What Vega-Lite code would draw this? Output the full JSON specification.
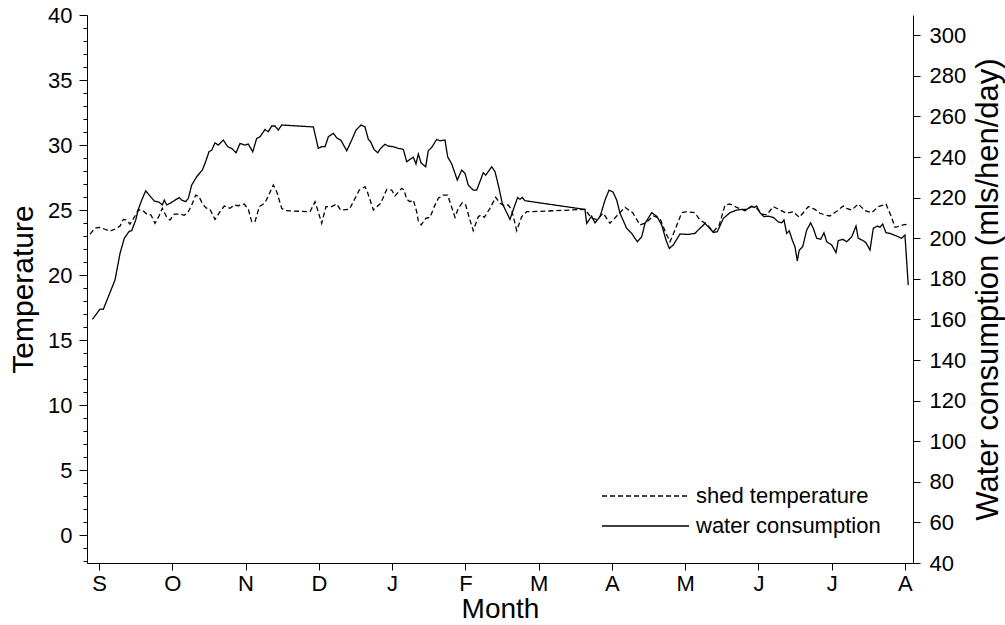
{
  "$schema": "https://vega.github.io/schema/vega-lite/v6.json",
  "width": 826,
  "height": 548,
  "autosize": "none",
  "padding": {"left": 87, "top": 15, "right": 92, "bottom": 62},
  "config": {
    "font": "Liberation Sans",
    "view": {"stroke": null},
    "axis": {"grid": false, "domainColor": "#000", "tickColor": "#000", "labelColor": "#000", "titleColor": "#000", "labelFontSize": 22, "titleFontSize": 29, "titleFontWeight": "normal", "domainWidth": 1, "tickWidth": 1}
  },
  "datasets": {
    "temp": [
      {"month": -0.123, "value": 23.15}, {"month": -0.055, "value": 23.59}, {"month": 0.0, "value": 23.67}, {"month": 0.072, "value": 23.54},
      {"month": 0.15, "value": 23.38}, {"month": 0.218, "value": 23.54}, {"month": 0.287, "value": 23.77}, {"month": 0.332, "value": 24.28},
      {"month": 0.378, "value": 24.23}, {"month": 0.423, "value": 23.92}, {"month": 0.491, "value": 24.54}, {"month": 0.536, "value": 25.0},
      {"month": 0.591, "value": 25.0}, {"month": 0.651, "value": 24.69}, {"month": 0.71, "value": 24.62}, {"month": 0.764, "value": 23.98},
      {"month": 0.819, "value": 24.54}, {"month": 0.864, "value": 25.13}, {"month": 0.924, "value": 24.44}, {"month": 0.969, "value": 24.23},
      {"month": 1.028, "value": 24.69}, {"month": 1.105, "value": 24.69}, {"month": 1.164, "value": 24.59}, {"month": 1.219, "value": 24.87},
      {"month": 1.265, "value": 25.38}, {"month": 1.32, "value": 26.15}, {"month": 1.365, "value": 26.02}, {"month": 1.41, "value": 25.52},
      {"month": 1.456, "value": 25.18}, {"month": 1.515, "value": 25.05}, {"month": 1.583, "value": 24.28}, {"month": 1.651, "value": 24.87},
      {"month": 1.71, "value": 25.31}, {"month": 1.788, "value": 25.13}, {"month": 1.847, "value": 25.38}, {"month": 1.901, "value": 25.33},
      {"month": 1.983, "value": 25.46}, {"month": 2.038, "value": 25.05}, {"month": 2.084, "value": 24.1}, {"month": 2.129, "value": 24.1},
      {"month": 2.188, "value": 25.26}, {"month": 2.266, "value": 25.56}, {"month": 2.311, "value": 26.08}, {"month": 2.379, "value": 26.92},
      {"month": 2.425, "value": 26.41}, {"month": 2.494, "value": 25.13}, {"month": 2.539, "value": 24.95}, {"month": 2.88, "value": 24.87},
      {"month": 2.948, "value": 25.64}, {"month": 2.985, "value": 25.0}, {"month": 3.039, "value": 23.98}, {"month": 3.098, "value": 25.26},
      {"month": 3.176, "value": 25.26}, {"month": 3.244, "value": 25.46}, {"month": 3.299, "value": 25.0}, {"month": 3.416, "value": 25.05},
      {"month": 3.471, "value": 25.64}, {"month": 3.553, "value": 26.54}, {"month": 3.63, "value": 26.79}, {"month": 3.662, "value": 26.41},
      {"month": 3.744, "value": 25.0}, {"month": 3.845, "value": 25.52}, {"month": 3.927, "value": 26.59}, {"month": 3.995, "value": 26.54},
      {"month": 4.04, "value": 26.08}, {"month": 4.131, "value": 26.67}, {"month": 4.163, "value": 26.54}, {"month": 4.2, "value": 25.82},
      {"month": 4.245, "value": 25.64}, {"month": 4.29, "value": 25.77}, {"month": 4.336, "value": 24.87}, {"month": 4.358, "value": 24.15},
      {"month": 4.398, "value": 23.85}, {"month": 4.459, "value": 24.36}, {"month": 4.518, "value": 24.44}, {"month": 4.576, "value": 25.26},
      {"month": 4.631, "value": 25.9}, {"month": 4.699, "value": 26.15}, {"month": 4.759, "value": 26.15}, {"month": 4.804, "value": 25.38},
      {"month": 4.859, "value": 24.44}, {"month": 4.904, "value": 25.13}, {"month": 4.958, "value": 25.56}, {"month": 5.005, "value": 25.38},
      {"month": 5.063, "value": 24.23}, {"month": 5.108, "value": 23.41}, {"month": 5.177, "value": 24.49}, {"month": 5.214, "value": 24.62},
      {"month": 5.259, "value": 24.44}, {"month": 5.336, "value": 25.13}, {"month": 5.414, "value": 25.98}, {"month": 5.473, "value": 25.52},
      {"month": 5.532, "value": 25.33}, {"month": 5.586, "value": 25.38}, {"month": 5.633, "value": 25.0}, {"month": 5.701, "value": 23.41},
      {"month": 5.769, "value": 24.49}, {"month": 5.837, "value": 24.87}, {"month": 5.906, "value": 24.87}, {"month": 6.633, "value": 25.05},
      {"month": 6.724, "value": 24.36}, {"month": 6.793, "value": 24.28}, {"month": 6.883, "value": 24.75}, {"month": 6.974, "value": 23.98},
      {"month": 7.066, "value": 24.54}, {"month": 7.179, "value": 25.21}, {"month": 7.284, "value": 24.79}, {"month": 7.384, "value": 23.85},
      {"month": 7.465, "value": 24.02}, {"month": 7.565, "value": 24.54}, {"month": 7.656, "value": 24.36}, {"month": 7.738, "value": 23.21},
      {"month": 7.793, "value": 22.56}, {"month": 7.861, "value": 23.46}, {"month": 7.953, "value": 24.79}, {"month": 8.021, "value": 24.87},
      {"month": 8.134, "value": 24.79}, {"month": 8.202, "value": 24.23}, {"month": 8.294, "value": 23.92}, {"month": 8.384, "value": 23.33},
      {"month": 8.466, "value": 23.85}, {"month": 8.544, "value": 25.38}, {"month": 8.612, "value": 25.46}, {"month": 8.703, "value": 25.21},
      {"month": 8.817, "value": 24.95}, {"month": 8.908, "value": 25.26}, {"month": 8.976, "value": 25.13}, {"month": 9.045, "value": 24.69},
      {"month": 9.113, "value": 24.62}, {"month": 9.203, "value": 25.26}, {"month": 9.295, "value": 25.0}, {"month": 9.386, "value": 24.75},
      {"month": 9.476, "value": 24.87}, {"month": 9.558, "value": 24.44}, {"month": 9.612, "value": 24.79}, {"month": 9.681, "value": 25.26},
      {"month": 9.772, "value": 25.05}, {"month": 9.84, "value": 24.75}, {"month": 9.909, "value": 24.62}, {"month": 9.977, "value": 24.54},
      {"month": 10.059, "value": 24.87}, {"month": 10.158, "value": 25.31}, {"month": 10.205, "value": 25.13}, {"month": 10.273, "value": 25.0},
      {"month": 10.363, "value": 25.46}, {"month": 10.454, "value": 24.95}, {"month": 10.546, "value": 24.79}, {"month": 10.636, "value": 25.26},
      {"month": 10.741, "value": 25.46}, {"month": 10.805, "value": 24.62}, {"month": 10.864, "value": 23.67}, {"month": 10.932, "value": 23.77},
      {"month": 10.977, "value": 23.85}, {"month": 11.045, "value": 23.92}
    ],
    "water": [
      {"month": -0.091, "value": 160.0}, {"month": 0.014, "value": 165.1}, {"month": 0.059, "value": 165.0}, {"month": 0.127, "value": 171.2},
      {"month": 0.218, "value": 179.4}, {"month": 0.287, "value": 192.6}, {"month": 0.345, "value": 200.0}, {"month": 0.414, "value": 203.5},
      {"month": 0.446, "value": 203.7}, {"month": 0.501, "value": 209.0}, {"month": 0.536, "value": 214.2}, {"month": 0.583, "value": 218.8},
      {"month": 0.637, "value": 223.4}, {"month": 0.696, "value": 220.8}, {"month": 0.755, "value": 218.3}, {"month": 0.819, "value": 217.8},
      {"month": 0.864, "value": 216.4}, {"month": 0.891, "value": 218.8}, {"month": 0.924, "value": 216.4}, {"month": 0.983, "value": 217.5},
      {"month": 1.037, "value": 218.8}, {"month": 1.096, "value": 220.0}, {"month": 1.129, "value": 218.8}, {"month": 1.183, "value": 218.0},
      {"month": 1.219, "value": 219.7}, {"month": 1.265, "value": 226.2}, {"month": 1.333, "value": 230.3}, {"month": 1.41, "value": 233.6},
      {"month": 1.447, "value": 236.9}, {"month": 1.501, "value": 242.6}, {"month": 1.538, "value": 243.4}, {"month": 1.583, "value": 247.0},
      {"month": 1.628, "value": 245.9}, {"month": 1.696, "value": 248.4}, {"month": 1.757, "value": 245.1}, {"month": 1.811, "value": 244.3},
      {"month": 1.87, "value": 242.1}, {"month": 1.924, "value": 246.7}, {"month": 1.993, "value": 245.9}, {"month": 2.038, "value": 246.4},
      {"month": 2.098, "value": 242.6}, {"month": 2.152, "value": 249.2}, {"month": 2.197, "value": 250.0}, {"month": 2.266, "value": 253.6},
      {"month": 2.311, "value": 252.5}, {"month": 2.357, "value": 255.3}, {"month": 2.402, "value": 255.3}, {"month": 2.447, "value": 253.3},
      {"month": 2.494, "value": 255.8}, {"month": 2.903, "value": 254.9}, {"month": 2.925, "value": 254.9}, {"month": 2.993, "value": 244.3},
      {"month": 3.039, "value": 245.1}, {"month": 3.085, "value": 245.1}, {"month": 3.13, "value": 250.0}, {"month": 3.198, "value": 251.7},
      {"month": 3.252, "value": 249.2}, {"month": 3.299, "value": 248.4}, {"month": 3.381, "value": 243.1}, {"month": 3.449, "value": 248.4},
      {"month": 3.508, "value": 253.3}, {"month": 3.576, "value": 255.8}, {"month": 3.63, "value": 254.9}, {"month": 3.676, "value": 248.7},
      {"month": 3.708, "value": 247.5}, {"month": 3.753, "value": 243.8}, {"month": 3.804, "value": 242.1}, {"month": 3.845, "value": 244.3},
      {"month": 3.903, "value": 246.3}, {"month": 3.948, "value": 245.4}, {"month": 4.017, "value": 245.1}, {"month": 4.085, "value": 244.3},
      {"month": 4.153, "value": 243.8}, {"month": 4.2, "value": 237.7}, {"month": 4.245, "value": 238.9}, {"month": 4.29, "value": 239.9},
      {"month": 4.326, "value": 236.6}, {"month": 4.358, "value": 241.5}, {"month": 4.395, "value": 237.2}, {"month": 4.459, "value": 235.2},
      {"month": 4.494, "value": 243.1}, {"month": 4.541, "value": 244.8}, {"month": 4.609, "value": 248.7}, {"month": 4.654, "value": 248.0},
      {"month": 4.722, "value": 248.4}, {"month": 4.759, "value": 240.1}, {"month": 4.814, "value": 236.6}, {"month": 4.89, "value": 228.7},
      {"month": 4.95, "value": 233.6}, {"month": 4.995, "value": 232.0}, {"month": 5.04, "value": 226.2}, {"month": 5.108, "value": 223.7},
      {"month": 5.155, "value": 223.7}, {"month": 5.245, "value": 232.3}, {"month": 5.278, "value": 231.1}, {"month": 5.36, "value": 235.2},
      {"month": 5.405, "value": 232.8}, {"month": 5.45, "value": 226.2}, {"month": 5.504, "value": 217.2}, {"month": 5.609, "value": 209.3},
      {"month": 5.668, "value": 215.5}, {"month": 5.714, "value": 220.1}, {"month": 5.746, "value": 219.2}, {"month": 5.777, "value": 220.1},
      {"month": 5.814, "value": 218.5}, {"month": 6.633, "value": 214.2}, {"month": 6.656, "value": 207.3}, {"month": 6.724, "value": 210.9},
      {"month": 6.77, "value": 207.6}, {"month": 6.838, "value": 210.6}, {"month": 6.906, "value": 218.8}, {"month": 6.961, "value": 223.7},
      {"month": 7.015, "value": 222.8}, {"month": 7.066, "value": 218.8}, {"month": 7.111, "value": 212.3}, {"month": 7.202, "value": 204.9},
      {"month": 7.27, "value": 202.4}, {"month": 7.347, "value": 198.3}, {"month": 7.407, "value": 200.7}, {"month": 7.452, "value": 207.3},
      {"month": 7.543, "value": 212.6}, {"month": 7.611, "value": 210.9}, {"month": 7.68, "value": 206.5}, {"month": 7.739, "value": 199.1},
      {"month": 7.784, "value": 195.0}, {"month": 7.838, "value": 196.7}, {"month": 7.93, "value": 202.1}, {"month": 8.043, "value": 201.9},
      {"month": 8.134, "value": 202.4}, {"month": 8.202, "value": 204.9}, {"month": 8.271, "value": 207.3}, {"month": 8.316, "value": 205.7},
      {"month": 8.384, "value": 202.9}, {"month": 8.439, "value": 203.2}, {"month": 8.521, "value": 209.8}, {"month": 8.612, "value": 212.6},
      {"month": 8.703, "value": 213.9}, {"month": 8.772, "value": 214.2}, {"month": 8.84, "value": 214.2}, {"month": 8.908, "value": 215.9},
      {"month": 8.944, "value": 215.2}, {"month": 8.976, "value": 215.9}, {"month": 9.021, "value": 212.6}, {"month": 9.076, "value": 210.6},
      {"month": 9.135, "value": 210.9}, {"month": 9.203, "value": 210.3}, {"month": 9.271, "value": 208.1}, {"month": 9.317, "value": 207.6},
      {"month": 9.349, "value": 209.0}, {"month": 9.386, "value": 202.4}, {"month": 9.421, "value": 203.7}, {"month": 9.462, "value": 199.1},
      {"month": 9.499, "value": 195.8}, {"month": 9.531, "value": 188.9}, {"month": 9.558, "value": 194.2}, {"month": 9.604, "value": 195.8},
      {"month": 9.659, "value": 204.0}, {"month": 9.713, "value": 207.6}, {"month": 9.749, "value": 204.9}, {"month": 9.795, "value": 200.0},
      {"month": 9.85, "value": 199.5}, {"month": 9.895, "value": 202.7}, {"month": 9.932, "value": 198.3}, {"month": 10.0, "value": 196.7},
      {"month": 10.059, "value": 192.9}, {"month": 10.09, "value": 198.8}, {"month": 10.15, "value": 199.5}, {"month": 10.205, "value": 198.3},
      {"month": 10.273, "value": 200.7}, {"month": 10.332, "value": 206.0}, {"month": 10.363, "value": 200.0}, {"month": 10.431, "value": 198.8},
      {"month": 10.468, "value": 197.8}, {"month": 10.523, "value": 194.2}, {"month": 10.568, "value": 204.9}, {"month": 10.622, "value": 206.0},
      {"month": 10.659, "value": 205.4}, {"month": 10.696, "value": 207.0}, {"month": 10.741, "value": 202.7}, {"month": 10.796, "value": 202.4},
      {"month": 10.887, "value": 201.1}, {"month": 10.955, "value": 200.0}, {"month": 11.0, "value": 201.6}, {"month": 11.045, "value": 176.9}
    ]
  },
  "encoding": {
    "x": {
      "field": "month", "type": "quantitative",
      "scale": {"domain": [-0.164, 11.11], "nice": false, "zero": false},
      "axis": {
        "values": [0, 1, 2, 3, 4, 5, 6, 7, 8, 9, 10, 11],
        "labelExpr": "['S','O','N','D','J','F','M','A','M','J','J','A'][datum.value]",
        "tickSize": 7, "labelPadding": 3, "title": "Month", "titlePadding": 1, "titleFontSize": 28
      }
    }
  },
  "layer": [
    {
      "data": {"name": "temp"},
      "transform": [{"calculate": "'shed temperature'", "as": "series"}],
      "mark": {"type": "line", "color": "#000", "strokeWidth": 1.3},
      "encoding": {
        "y": {
          "field": "value", "type": "quantitative",
          "scale": {"domain": [-2.15, 40], "nice": false, "zero": false},
          "axis": {
            "orient": "left", "title": "Temperature", "titlePadding": 9, "titleFontSize": 30,
            "values": [-2, -1, 0, 1, 2, 3, 4, 5, 6, 7, 8, 9, 10, 11, 12, 13, 14, 15, 16, 17, 18, 19, 20, 21, 22, 23, 24, 25, 26, 27, 28, 29, 30, 31, 32, 33, 34, 35, 36, 37, 38, 39, 40],
            "labelExpr": "datum.value % 5 === 0 ? datum.label : ''",
            "tickSize": {"condition": {"test": "datum.value % 5 === 0", "value": 8}, "value": 4},
            "labelPadding": 7
          }
        },
        "strokeDash": {
          "field": "series", "type": "nominal",
          "scale": {"domain": ["shed temperature", "water consumption"], "range": [[5, 3], [1, 0]]},
          "legend": {
            "title": null, "orient": "none", "legendX": 509, "legendY": 470,
            "symbolType": "M-1,0H16.4", "symbolSize": 100, "symbolStrokeColor": "#000", "symbolStrokeWidth": 1.3,
            "labelOffset": 78, "labelFontSize": 22, "labelColor": "#000", "labelLimit": 400, "rowPadding": 8
          }
        }
      }
    },
    {
      "data": {"name": "water"},
      "transform": [{"calculate": "'water consumption'", "as": "series"}],
      "mark": {"type": "line", "color": "#000", "strokeWidth": 1.3},
      "encoding": {
        "y": {
          "field": "value", "type": "quantitative",
          "scale": {"domain": [40, 310], "nice": false, "zero": false},
          "axis": {
            "orient": "right", "title": "Water consumption (mls/hen/day)", "titlePadding": 8, "titleAngle": 270, "titleBaseline": "top", "titleFontSize": 31,
            "values": [40, 60, 80, 100, 120, 140, 160, 180, 200, 220, 240, 260, 280, 300],
            "tickSize": 7, "labelPadding": 9
          }
        },
        "strokeDash": {"field": "series", "type": "nominal"}
      }
    }
  ],
  "resolve": {"scale": {"y": "independent"}}
}
